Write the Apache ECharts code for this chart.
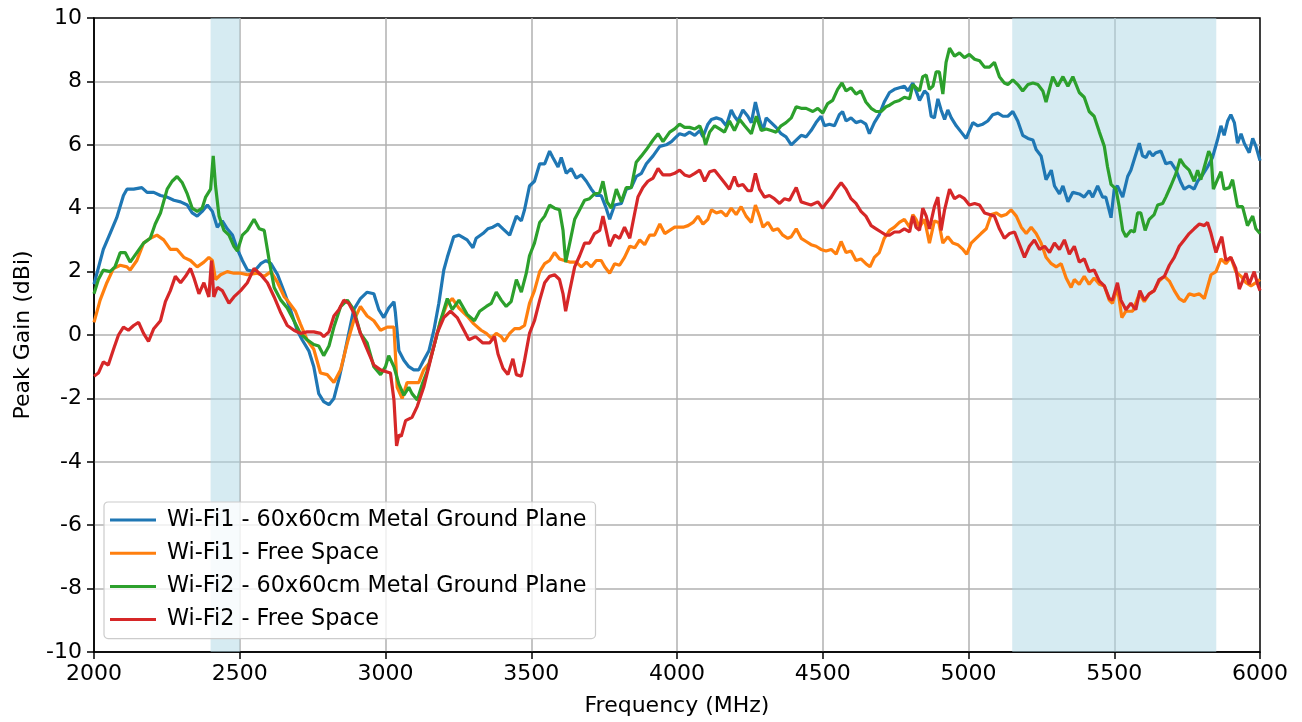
<!DOCTYPE html>
<html>
<head>
<meta charset="utf-8">
<script src="https://cdn.jsdelivr.net/npm/echarts@6/dist/echarts.min.js"></script>
<style>html,body{margin:0;padding:0;background:#fff}#c{width:1302px;height:722px}</style>
</head>
<body>
<div id="c"></div>
<script>
const seriesNames = ['Wi-Fi1 - 60x60cm Metal Ground Plane','Wi-Fi1 - Free Space','Wi-Fi2 - 60x60cm Metal Ground Plane','Wi-Fi2 - Free Space'];
const seriesColors = ['#1f77b4','#ff7f0e','#2ca02c','#d62728'];
const bands = [[2400,2500],[5150,5850]];
const xTicks = {min:2000, max:6000, step:500};
const yTicks = {min:-10, max:10, step:2};

// [frequency MHz, peak gain dBi]
const wifi1Metal = [[2000,1.6],[2032,2.7],[2055,3.2],[2078,3.7],[2101,4.4],[2113,4.6],[2136,4.6],[2164,4.65],[2182,4.5],[2205,4.5],[2228,4.4],[2251,4.35],[2274,4.25],[2297,4.2],[2320,4.1],[2337,3.85],[2354,3.75],[2371,3.9],[2389,4.1],[2406,3.9],[2423,3.4],[2440,3.6],[2457,3.35],[2475,3.15],[2492,2.7],[2509,2.35],[2526,2.05],[2549,2.0],[2572,2.25],[2590,2.35],[2607,2.25],[2630,1.9],[2653,1.35],[2674,0.8],[2697,0.15],[2714,-0.15],[2737,-0.5],[2754,-1.0],[2771,-1.85],[2788,-2.1],[2806,-2.2],[2823,-2.0],[2840,-1.4],[2857,-0.7],[2874,0.05],[2891,0.8],[2914,1.15],[2937,1.35],[2960,1.3],[2977,0.8],[2994,0.55],[3011,0.85],[3029,1.05],[3034,0.7],[3046,-0.5],[3063,-0.8],[3080,-1.0],[3097,-1.1],[3114,-1.1],[3131,-0.8],[3149,-0.5],[3166,0.15],[3183,1.0],[3200,2.05],[3212,2.45],[3234,3.1],[3252,3.15],[3280,3.0],[3300,2.75],[3311,3.05],[3334,3.2],[3351,3.35],[3368,3.4],[3386,3.5],[3403,3.35],[3426,3.15],[3449,3.75],[3466,3.6],[3477,3.95],[3494,4.7],[3511,4.85],[3529,5.4],[3546,5.4],[3563,5.8],[3574,5.6],[3592,5.3],[3603,5.6],[3620,5.1],[3637,5.25],[3654,4.95],[3672,5.05],[3689,4.85],[3706,4.6],[3723,4.4],[3740,4.4],[3757,4.0],[3769,3.65],[3786,4.1],[3809,4.15],[3826,4.6],[3843,4.65],[3860,5.0],[3878,5.1],[3895,5.4],[3918,5.65],[3941,5.95],[3963,6.0],[3981,6.1],[3992,6.2],[4009,6.35],[4026,6.3],[4043,6.4],[4061,6.3],[4078,6.45],[4089,6.25],[4106,6.65],[4118,6.8],[4135,6.85],[4152,6.8],[4169,6.6],[4186,7.1],[4197,6.9],[4209,6.75],[4226,7.1],[4243,6.9],[4255,6.7],[4269,7.35],[4283,6.8],[4295,6.45],[4306,6.85],[4323,6.7],[4340,6.55],[4357,6.35],[4374,6.25],[4392,6.0],[4397,5.95],[4409,6.15],[4426,6.3],[4443,6.25],[4460,6.45],[4477,6.7],[4494,6.9],[4506,6.6],[4523,6.65],[4540,6.6],[4557,6.95],[4568,7.05],[4580,6.75],[4597,6.85],[4614,6.7],[4631,6.75],[4648,6.65],[4660,6.35],[4677,6.7],[4694,6.95],[4711,7.35],[4729,7.65],[4746,7.75],[4763,7.8],[4780,7.85],[4792,7.7],[4809,7.95],[4820,7.7],[4832,7.4],[4849,7.7],[4860,7.6],[4872,6.9],[4883,6.85],[4895,7.45],[4906,7.1],[4918,6.8],[4929,7.1],[4941,6.85],[4958,6.6],[4975,6.4],[4992,6.2],[5003,6.45],[5015,6.7],[5032,6.6],[5049,6.65],[5066,6.75],[5083,6.95],[5101,7.0],[5118,6.9],[5135,6.9],[5152,7.05],[5169,6.75],[5186,6.3],[5204,6.2],[5221,6.15],[5232,5.85],[5249,5.65],[5266,4.9],[5284,5.2],[5295,4.7],[5312,4.45],[5324,4.7],[5341,4.2],[5358,4.5],[5380,4.45],[5397,4.35],[5414,4.55],[5426,4.35],[5443,4.7],[5460,4.35],[5471,4.35],[5489,3.7],[5500,4.6],[5511,4.7],[5529,4.35],[5546,5.0],[5557,5.2],[5569,5.55],[5586,6.05],[5597,5.65],[5609,5.6],[5620,5.8],[5632,5.65],[5643,5.75],[5660,5.8],[5677,5.4],[5694,5.45],[5712,5.2],[5729,4.8],[5740,4.6],[5757,4.7],[5774,4.6],[5786,4.85],[5803,5.05],[5820,5.3],[5837,5.6],[5854,6.15],[5866,6.6],[5877,6.3],[5889,6.75],[5900,6.95],[5912,6.7],[5923,6.05],[5935,6.35],[5946,6.05],[5963,5.75],[5975,6.2],[5986,5.95],[6000,5.5]];

const wifi1Free = [[2000,0.4],[2021,1.1],[2044,1.65],[2067,2.1],[2090,2.2],[2113,2.15],[2124,2.05],[2147,2.35],[2170,2.9],[2193,3.05],[2216,3.15],[2239,3.0],[2262,2.7],[2285,2.7],[2308,2.45],[2331,2.35],[2354,2.15],[2377,2.3],[2394,2.45],[2406,2.35],[2417,1.75],[2434,1.9],[2457,2.0],[2480,1.95],[2503,1.95],[2526,1.9],[2561,1.95],[2584,1.85],[2607,2.0],[2630,1.65],[2653,1.2],[2663,1.1],[2691,0.75],[2708,0.35],[2731,-0.15],[2754,-0.45],[2777,-1.2],[2800,-1.25],[2823,-1.5],[2846,-1.1],[2869,-0.25],[2891,0.45],[2914,0.9],[2937,0.6],[2960,0.45],[2983,0.15],[3006,0.25],[3029,0.25],[3040,-1.65],[3057,-2.0],[3074,-1.5],[3097,-1.5],[3114,-1.5],[3131,-1.1],[3149,-0.9],[3166,-0.35],[3189,0.45],[3212,1.0],[3229,1.15],[3252,0.85],[3280,0.6],[3303,0.35],[3328,0.15],[3346,0.05],[3363,-0.1],[3380,0.05],[3397,-0.05],[3408,-0.2],[3426,0.05],[3443,0.2],[3460,0.2],[3477,0.3],[3494,1.0],[3511,1.4],[3529,2.0],[3546,2.25],[3563,2.35],[3580,2.6],[3597,2.4],[3614,2.35],[3632,2.3],[3654,2.3],[3672,2.15],[3689,2.3],[3706,2.15],[3723,2.35],[3740,2.35],[3752,2.15],[3769,1.95],[3786,2.25],[3803,2.2],[3820,2.45],[3838,2.8],[3855,2.75],[3872,3.0],[3889,2.85],[3906,3.15],[3923,3.15],[3941,3.5],[3958,3.2],[3975,3.3],[3992,3.4],[4003,3.4],[4021,3.4],[4038,3.45],[4055,3.55],[4072,3.75],[4089,3.5],[4106,3.65],[4118,3.95],[4135,3.85],[4152,3.9],[4169,3.75],[4186,4.0],[4203,3.8],[4220,4.05],[4237,3.75],[4255,3.55],[4269,4.1],[4283,3.75],[4295,3.4],[4312,3.55],[4329,3.3],[4346,3.35],[4363,3.15],[4380,3.05],[4392,3.1],[4409,3.35],[4426,3.05],[4443,2.95],[4460,2.85],[4477,2.8],[4494,2.7],[4511,2.65],[4529,2.7],[4546,2.55],[4563,2.95],[4580,2.6],[4597,2.65],[4614,2.35],[4631,2.4],[4648,2.25],[4662,2.15],[4677,2.45],[4694,2.6],[4711,3.05],[4729,3.3],[4746,3.4],[4763,3.55],[4780,3.65],[4798,3.4],[4809,3.8],[4820,3.65],[4832,3.4],[4849,3.65],[4866,2.9],[4883,3.6],[4898,3.55],[4912,2.9],[4929,3.1],[4946,2.9],[4963,2.85],[4981,2.7],[4994,2.55],[5009,2.9],[5026,3.05],[5043,3.2],[5061,3.35],[5078,3.8],[5095,3.85],[5112,3.75],[5129,3.8],[5146,3.95],[5164,3.75],[5181,3.4],[5198,3.2],[5215,3.4],[5232,3.2],[5249,2.9],[5266,2.45],[5284,2.25],[5301,2.15],[5318,2.25],[5335,1.8],[5352,1.5],[5363,1.75],[5380,1.6],[5397,1.85],[5414,1.6],[5431,1.8],[5449,1.6],[5466,1.55],[5483,1.1],[5494,1.0],[5511,1.5],[5526,0.55],[5540,0.75],[5563,0.75],[5586,1.3],[5603,1.05],[5620,1.3],[5637,1.4],[5654,1.7],[5672,1.85],[5689,1.7],[5706,1.4],[5723,1.15],[5740,1.05],[5757,1.3],[5774,1.25],[5792,1.3],[5809,1.15],[5832,1.9],[5849,2.0],[5866,2.4],[5883,2.25],[5900,2.45],[5917,2.0],[5935,1.85],[5952,1.65],[5969,1.55],[5986,1.65],[6000,1.75]];

const wifi2Metal = [[2000,1.3],[2015,1.75],[2032,2.05],[2055,2.0],[2072,2.15],[2090,2.6],[2107,2.6],[2124,2.3],[2147,2.6],[2170,2.9],[2193,3.05],[2210,3.5],[2228,3.85],[2251,4.6],[2268,4.85],[2285,5.0],[2303,4.8],[2320,4.45],[2337,4.0],[2354,3.9],[2371,4.0],[2383,4.35],[2400,4.6],[2409,5.65],[2417,4.7],[2429,3.75],[2446,3.3],[2463,3.15],[2480,2.8],[2492,2.65],[2509,3.15],[2526,3.3],[2549,3.65],[2567,3.35],[2584,3.3],[2601,2.35],[2618,1.5],[2641,1.1],[2663,0.85],[2686,0.45],[2708,0.05],[2731,-0.15],[2754,-0.3],[2771,-0.35],[2788,-0.65],[2806,-0.35],[2823,0.25],[2846,0.9],[2869,1.1],[2891,0.8],[2914,0.05],[2937,-0.25],[2960,-1.0],[2983,-1.25],[3000,-1.0],[3011,-0.65],[3029,-1.0],[3046,-1.55],[3063,-1.9],[3080,-1.65],[3091,-1.85],[3109,-2.05],[3126,-1.55],[3143,-1.15],[3166,-0.35],[3189,0.45],[3212,1.15],[3229,0.8],[3252,1.1],[3280,0.65],[3305,0.45],[3323,0.75],[3346,0.9],[3363,1.0],[3380,1.35],[3397,1.1],[3414,0.9],[3431,1.05],[3449,1.75],[3466,1.35],[3483,1.95],[3494,2.5],[3511,2.9],[3529,3.55],[3546,3.75],[3563,4.1],[3580,4.0],[3597,3.95],[3609,3.3],[3618,2.3],[3632,2.9],[3649,3.65],[3666,3.95],[3683,4.25],[3700,4.3],[3717,4.45],[3735,4.5],[3746,4.85],[3760,4.2],[3775,4.0],[3792,4.6],[3809,4.2],[3826,4.65],[3843,4.65],[3860,5.45],[3878,5.65],[3895,5.85],[3918,6.15],[3935,6.35],[3952,6.1],[3975,6.4],[3992,6.5],[4009,6.65],[4026,6.55],[4043,6.55],[4061,6.5],[4078,6.6],[4089,6.35],[4098,6.0],[4112,6.4],[4129,6.6],[4146,6.5],[4163,6.4],[4180,6.75],[4197,6.45],[4215,6.8],[4232,6.6],[4255,6.35],[4272,6.9],[4289,6.45],[4306,6.5],[4323,6.45],[4340,6.4],[4357,6.6],[4374,6.7],[4392,6.85],[4409,7.2],[4426,7.15],[4443,7.15],[4466,7.05],[4483,7.15],[4500,7.0],[4517,7.3],[4534,7.4],[4551,7.75],[4566,7.95],[4580,7.7],[4597,7.8],[4614,7.6],[4631,7.7],[4648,7.35],[4666,7.15],[4683,7.05],[4700,7.05],[4717,7.2],[4729,7.25],[4746,7.35],[4763,7.4],[4780,7.5],[4798,7.45],[4809,7.9],[4820,7.8],[4832,7.7],[4843,8.15],[4855,8.2],[4866,7.75],[4878,7.85],[4889,8.3],[4900,8.3],[4912,7.6],[4923,8.6],[4935,9.05],[4952,8.8],[4969,8.9],[4986,8.75],[5003,8.85],[5021,8.7],[5038,8.65],[5055,8.45],[5072,8.45],[5089,8.6],[5106,8.15],[5123,7.95],[5135,7.9],[5152,8.05],[5169,7.9],[5186,7.7],[5204,7.9],[5221,7.95],[5238,7.9],[5255,7.7],[5266,7.35],[5289,8.15],[5306,7.85],[5324,8.15],[5341,7.85],[5358,8.15],[5380,7.65],[5397,7.5],[5414,7.05],[5431,6.9],[5449,6.4],[5466,5.95],[5477,5.3],[5489,4.75],[5506,4.6],[5517,4.05],[5529,3.3],[5540,3.1],[5557,3.3],[5569,3.25],[5580,3.85],[5591,3.85],[5606,3.3],[5620,3.65],[5637,3.8],[5649,4.1],[5666,4.15],[5677,4.35],[5694,4.7],[5712,5.1],[5726,5.55],[5740,5.35],[5757,5.2],[5774,4.85],[5786,5.2],[5797,4.9],[5809,5.3],[5824,5.8],[5832,5.65],[5840,4.6],[5854,4.9],[5866,5.15],[5877,4.6],[5895,4.65],[5906,4.9],[5923,4.05],[5940,4.05],[5957,3.45],[5975,3.75],[5986,3.35],[6000,3.2]];

const wifi2Free = [[2000,-1.3],[2015,-1.2],[2032,-0.85],[2049,-0.95],[2067,-0.45],[2084,0.0],[2101,0.25],[2118,0.15],[2136,0.3],[2153,0.4],[2170,0.05],[2187,-0.2],[2205,0.2],[2228,0.45],[2245,1.05],[2262,1.4],[2279,1.85],[2297,1.65],[2314,1.85],[2331,2.1],[2343,1.8],[2360,1.3],[2377,1.65],[2394,1.2],[2403,2.35],[2411,1.2],[2423,1.5],[2440,1.4],[2463,1.0],[2480,1.2],[2503,1.4],[2526,1.65],[2549,2.1],[2572,1.9],[2595,1.65],[2618,1.2],[2641,0.7],[2663,0.3],[2686,0.15],[2708,0.05],[2731,0.1],[2754,0.1],[2777,0.05],[2788,-0.05],[2806,0.1],[2823,0.6],[2840,0.8],[2857,1.1],[2874,1.0],[2891,0.7],[2914,0.05],[2937,-0.45],[2960,-0.95],[2983,-1.1],[3000,-1.15],[3017,-1.2],[3029,-2.05],[3038,-3.5],[3046,-3.15],[3054,-3.2],[3069,-2.7],[3091,-2.6],[3109,-2.25],[3131,-1.65],[3154,-0.8],[3177,0.05],[3200,0.55],[3223,0.75],[3246,0.55],[3269,0.15],[3286,-0.15],[3309,-0.05],[3334,-0.25],[3357,-0.25],[3374,-0.05],[3386,-0.6],[3403,-1.05],[3420,-1.25],[3437,-0.75],[3449,-1.25],[3466,-1.3],[3477,-0.8],[3494,0.05],[3511,0.45],[3529,1.1],[3546,1.65],[3563,1.85],[3580,1.9],[3597,1.75],[3609,1.3],[3618,0.75],[3632,1.4],[3649,2.15],[3666,2.5],[3683,2.9],[3700,2.9],[3717,3.2],[3735,3.3],[3746,3.75],[3757,3.3],[3769,2.8],[3786,3.15],[3803,3.05],[3820,3.4],[3838,3.05],[3855,3.85],[3866,4.35],[3883,4.65],[3900,4.85],[3918,4.95],[3935,5.25],[3952,5.05],[3975,5.05],[3992,5.1],[4009,5.2],[4026,5.05],[4043,5.0],[4061,5.1],[4078,5.2],[4095,4.85],[4112,5.15],[4129,5.2],[4146,5.0],[4163,4.8],[4180,4.6],[4197,5.0],[4209,4.7],[4226,4.75],[4243,4.55],[4255,4.55],[4269,5.1],[4283,4.6],[4300,4.35],[4317,4.4],[4334,4.3],[4352,4.15],[4369,4.3],[4386,4.25],[4397,4.45],[4409,4.65],[4426,4.2],[4443,4.15],[4460,4.1],[4483,4.2],[4500,4.0],[4511,4.15],[4529,4.35],[4546,4.6],[4563,4.8],[4580,4.6],[4597,4.3],[4614,4.15],[4631,3.9],[4648,3.75],[4666,3.45],[4683,3.35],[4700,3.25],[4717,3.15],[4729,3.15],[4746,3.25],[4763,3.25],[4780,3.35],[4798,3.25],[4809,3.75],[4820,3.4],[4832,3.3],[4843,4.0],[4855,3.75],[4866,3.35],[4883,4.05],[4895,4.35],[4906,3.3],[4918,3.95],[4935,4.6],[4952,4.3],[4969,4.4],[4986,4.3],[5003,4.1],[5021,4.15],[5038,4.1],[5055,3.85],[5072,3.8],[5089,3.75],[5106,3.35],[5123,3.05],[5141,3.2],[5158,3.25],[5175,2.85],[5192,2.45],[5209,2.8],[5226,3.0],[5244,2.7],[5261,2.8],[5278,2.6],[5295,2.9],[5312,2.7],[5329,3.0],[5346,2.55],[5363,2.8],[5380,2.3],[5397,2.4],[5414,2.0],[5431,2.05],[5449,1.7],[5466,1.55],[5483,1.15],[5494,1.1],[5511,1.65],[5523,1.1],[5540,0.8],[5557,1.0],[5574,0.8],[5588,1.4],[5603,1.1],[5620,1.3],[5637,1.4],[5654,1.75],[5672,1.85],[5689,2.2],[5706,2.45],[5723,2.8],[5740,3.0],[5757,3.2],[5774,3.35],[5792,3.5],[5809,3.45],[5820,3.55],[5832,3.2],[5849,2.6],[5860,2.9],[5869,3.1],[5883,2.35],[5900,2.45],[5917,2.1],[5929,1.45],[5940,1.7],[5952,1.95],[5963,1.6],[5980,2.0],[5992,1.6],[6000,1.4]];

const allData = [wifi1Metal, wifi1Free, wifi2Metal, wifi2Free];
const FONT = 'DejaVu Sans';

const chart = echarts.init(document.getElementById('c'), null, {renderer:'canvas'});
const series = allData.map((d, i) => {
  const s = {
    name: seriesNames[i], type: 'line', data: d, showSymbol: false, symbol: 'none',
    color: seriesColors[i], lineStyle: {color: seriesColors[i], width: 3.2},
    z: 3 + i, animation: false, clip: true
  };
  if (i === 0) {
    s.markArea = {
      silent: true, z: 1,
      itemStyle: {color: 'rgba(173,216,230,0.5)'},
      data: bands.map(b => [{xAxis: b[0]}, {xAxis: b[1]}])
    };
  }
  return s;
});

chart.setOption({
  animation: false,
  backgroundColor: '#ffffff',
  grid: {left: 94, right: 42, top: 18, bottom: 70, show: true, borderColor: '#000', borderWidth: 1.5, backgroundColor: 'transparent'},
  legend: {
    orient: 'vertical', left: 104, top: 502, icon: 'rect', itemWidth: 46, itemHeight: 3, itemGap: 11.2,
    padding: [7, 9, 8, 6], backgroundColor: 'rgba(255,255,255,0.8)', borderColor: '#cccccc', borderWidth: 1.2, borderRadius: 4,
    textStyle: {fontFamily: FONT, fontSize: 22.3, lineHeight: 22, color: '#000', padding: [0, 0, 0, 6]},
    data: seriesNames
  },
  xAxis: {
    type: 'value', min: xTicks.min, max: xTicks.max, interval: xTicks.step,
    name: 'Frequency (MHz)', nameLocation: 'middle', nameGap: 43,
    nameTextStyle: {fontFamily: FONT, fontSize: 22, color: '#000'},
    axisLine: {show: true, onZero: false, lineStyle: {color: '#000', width: 1.5}},
    axisTick: {show: true, inside: false, length: 7, lineStyle: {color: '#000', width: 1.5}},
    axisLabel: {fontFamily: FONT, fontSize: 22, color: '#000', margin: 11, formatter: v => String(v)},
    splitLine: {show: true, showMinLine: false, showMaxLine: false, lineStyle: {color: '#b0b0b0', width: 1.5}}
  },
  yAxis: {
    type: 'value', min: yTicks.min, max: yTicks.max, interval: yTicks.step,
    name: 'Peak Gain (dBi)', nameLocation: 'middle', nameGap: 60, nameRotate: 90,
    nameTextStyle: {fontFamily: FONT, fontSize: 22, color: '#000'},
    axisLine: {show: true, onZero: false, lineStyle: {color: '#000', width: 1.5}},
    axisTick: {show: true, inside: false, length: 7, lineStyle: {color: '#000', width: 1.5}},
    axisLabel: {fontFamily: FONT, fontSize: 22, color: '#000', margin: 12, formatter: v => String(v)},
    splitLine: {show: true, showMinLine: false, showMaxLine: false, lineStyle: {color: '#b0b0b0', width: 1.5}}
  },
  series: series
});
</script>
</body>
</html>
